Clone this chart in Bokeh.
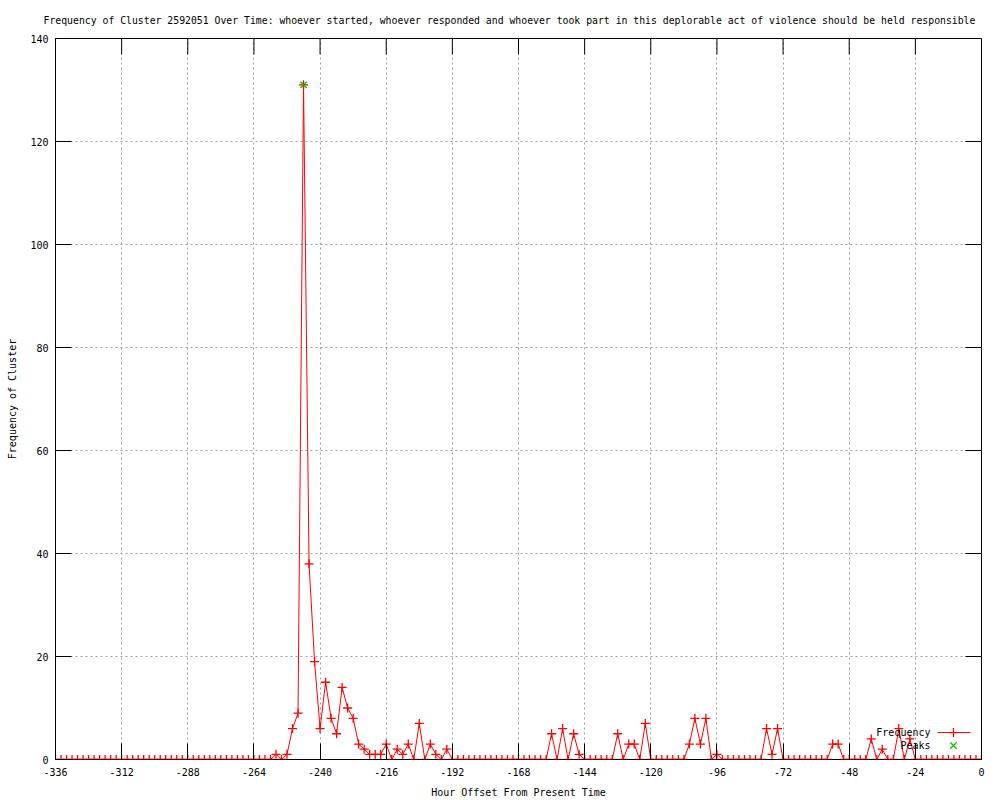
from bokeh.plotting import figure
from bokeh.models import FixedTicker, Range1d, Label, Span
from bokeh.embed import file_html
from bokeh.resources import INLINE

# ---------------- data ----------------
hours = [
    -336, -334, -332, -330, -328, -326, -324, -322, -320, -318, -316, -314,
    -312, -310, -308, -306, -304, -302, -300, -298, -296, -294, -292, -290,
    -288, -286, -284, -282, -280, -278, -276, -274, -272, -270, -268, -266,
    -264, -262, -260, -258, -256, -254, -252, -250, -248, -246, -244, -242,
    -240, -238, -236, -234, -232, -230, -228, -226, -224, -222, -220, -218,
    -216, -214, -212, -210, -208, -206, -204, -202, -200, -198, -196, -194,
    -192, -190, -188, -186, -184, -182, -180, -178, -176, -174, -172, -170,
    -168, -166, -164, -162, -160, -158, -156, -154, -152, -150, -148, -146,
    -144, -142, -140, -138, -136, -134, -132, -130, -128, -126, -124, -122,
    -120, -118, -116, -114, -112, -110, -108, -106, -104, -102, -100, -98,
    -96, -94, -92, -90, -88, -86, -84, -82, -80, -78, -76, -74,
    -72, -70, -68, -66, -64, -62, -60, -58, -56, -54, -52, -50,
    -48, -46, -44, -42, -40, -38, -36, -34, -32, -30, -28, -26,
    -24, -22, -20, -18, -16, -14, -12, -10, -8, -6, -4, -2, 0,
]
frequency = [
    0, 0, 0, 0, 0, 0, 0, 0, 0, 0, 0, 0,
    0, 0, 0, 0, 0, 0, 0, 0, 0, 0, 0, 0,
    0, 0, 0, 0, 0, 0, 0, 0, 0, 0, 0, 0,
    0, 0, 0, 0, 1, 0, 1, 6, 9, 131, 38, 19,
    6, 15, 8, 5, 14, 10, 8, 3, 2, 1, 1, 1,
    3, 0, 2, 1, 3, 0, 7, 0, 3, 1, 0, 2,
    0, 0, 0, 0, 0, 0, 0, 0, 0, 0, 0, 0,
    0, 0, 0, 0, 0, 0, 5, 0, 6, 0, 5, 1,
    0, 0, 0, 0, 0, 0, 5, 0, 3, 3, 0, 7,
    0, 0, 0, 0, 0, 0, 0, 3, 8, 3, 8, 0,
    1, 0, 0, 0, 0, 0, 0, 0, 0, 6, 1, 6,
    0, 0, 0, 0, 0, 0, 0, 0, 0, 3, 3, 0,
    0, 0, 0, 0, 4, 0, 2, 0, 0, 6, 0, 4,
    0, 0, 0, 0, 0, 0, 0, 0, 0, 0, 0, 0, 0,
]
peak_hours = [-246]
peak_values = [131]

x_ticks = [-336, -312, -288, -264, -240, -216, -192, -168, -144, -120, -96, -72, -48, -24, 0]
x_tick_labels = ["-336", "-312", "-288", "-264", "-240", "-216", "-192", "-168",
                 "-144", "-120", "-96", "-72", "-48", "-24", "0"]
y_ticks = [0, 20, 40, 60, 80, 100, 120, 140]
y_tick_labels = ["0", "20", "40", "60", "80", "100", "120", "140"]

legend_labels = ["Frequency", "Peaks"]

TITLE = ("Frequency of Cluster 2592051 Over Time: whoever started, whoever responded and "
         "whoever took part in this deplorable act of violence should be held responsible")
X_LABEL = "Hour Offset From Present Time"
Y_LABEL = "Frequency of Cluster"

# ---------------- style ----------------
FONT = "DejaVu Sans Mono"
FS = "10px"
RED = "#ff0000"
GREEN = "#00c000"
GRID = "#a0a0a0"
TICK_LEN = 16

X0, X1 = -336, 0
Y0, Y1 = 0, 140
FRAME_L, FRAME_T, FRAME_R, FRAME_B = 55, 38, 981, 760
FRAME_W, FRAME_H = FRAME_R - FRAME_L, FRAME_B - FRAME_T
WIDTH, HEIGHT = 992, 800


def hx(page_x):
    return X0 + (page_x - FRAME_L) * (X1 - X0) / FRAME_W


def vy(page_y):
    return Y0 + (FRAME_B - page_y) * (Y1 - Y0) / FRAME_H


p = figure(width=WIDTH, height=HEIGHT, output_backend="svg", toolbar_location=None,
           x_range=Range1d(X0, X1), y_range=Range1d(Y0, Y1),
           min_border_left=FRAME_L, min_border_right=WIDTH - FRAME_R,
           min_border_top=FRAME_T, min_border_bottom=HEIGHT - FRAME_B,
           x_axis_label=X_LABEL, y_axis_label=Y_LABEL)

p.background_fill_color = "white"
p.border_fill_color = "white"
p.outline_line_color = "black"
p.outline_line_width = 1

p.title.text = TITLE
p.title.text_font = FONT
p.title.text_font_size = "9.8px"
p.title.text_font_style = "normal"
p.title.text_color = "black"
p.title.align = "left"
p.title.offset = -12
p.title.standoff = 25

xt = FixedTicker(ticks=x_ticks)
yt = FixedTicker(ticks=y_ticks)

for ax, tk, labs in ((p.xaxis[0], xt, x_tick_labels), (p.yaxis[0], yt, y_tick_labels)):
    ax.ticker = tk
    ax.major_label_overrides = {t: s for t, s in zip(tk.ticks, labs)}
    ax.axis_line_color = None
    ax.major_tick_in = TICK_LEN
    ax.major_tick_out = 0
    ax.major_tick_line_color = "black"
    ax.minor_tick_in = 0
    ax.minor_tick_out = 0
    ax.major_label_text_font = FONT
    ax.major_label_text_font_size = FS
    ax.major_label_text_color = "black"
    ax.axis_label_text_font = FONT
    ax.axis_label_text_font_size = FS
    ax.axis_label_text_font_style = "normal"
    ax.axis_label_text_color = "black"

p.xaxis[0].major_label_standoff = 8
p.xaxis[0].axis_label_standoff = 8
p.yaxis[0].major_label_standoff = 7
p.yaxis[0].axis_label_standoff = 9

p.xgrid.ticker = xt
p.ygrid.ticker = yt
for g in (p.xgrid[0], p.ygrid[0]):
    g.grid_line_color = GRID
    g.grid_line_dash = "2 3"
    g.grid_line_width = 1

# data
p.line(hours, frequency, line_color=RED, line_width=1)
p.scatter(hours, frequency, marker="cross", size=9, line_color=RED, line_width=1.3)
p.scatter(peak_hours, peak_values, marker="x", size=9, line_color=GREEN, line_width=1.3)

# black border line over the zero-valued data (as in gnuplot)
p.add_layout(Span(location=Y0, dimension="width", line_color="black", line_width=1, level="overlay"))

# mirrored ticks on the top and right borders
dy = TICK_LEN * (Y1 - Y0) / FRAME_H
dx = TICK_LEN * (X1 - X0) / FRAME_W
p.segment(x0=x_ticks, y0=[Y1] * len(x_ticks), x1=x_ticks, y1=[Y1 - dy] * len(x_ticks),
          line_color="black", line_width=1)
p.segment(x0=[X1] * len(y_ticks), y0=y_ticks, x1=[X1 - dx] * len(y_ticks), y1=y_ticks,
          line_color="black", line_width=1)

# legend (gnuplot style: text then sample)
leg_y = [vy(733), vy(746)]
for lab, yv in zip(legend_labels, leg_y):
    p.add_layout(Label(x=hx(930), y=yv, text=lab, text_align="right", text_baseline="middle",
                       text_font=FONT, text_font_size=FS, text_color="black"))
p.line([hx(937), hx(970)], [leg_y[0], leg_y[0]], line_color=RED, line_width=1)
p.scatter([hx(953)], [leg_y[0]], marker="cross", size=9, line_color=RED, line_width=1.3)
p.scatter([hx(953)], [leg_y[1]], marker="x", size=9, line_color=GREEN, line_width=1.3)

open("out.html", "w").write(file_html(p, INLINE))
